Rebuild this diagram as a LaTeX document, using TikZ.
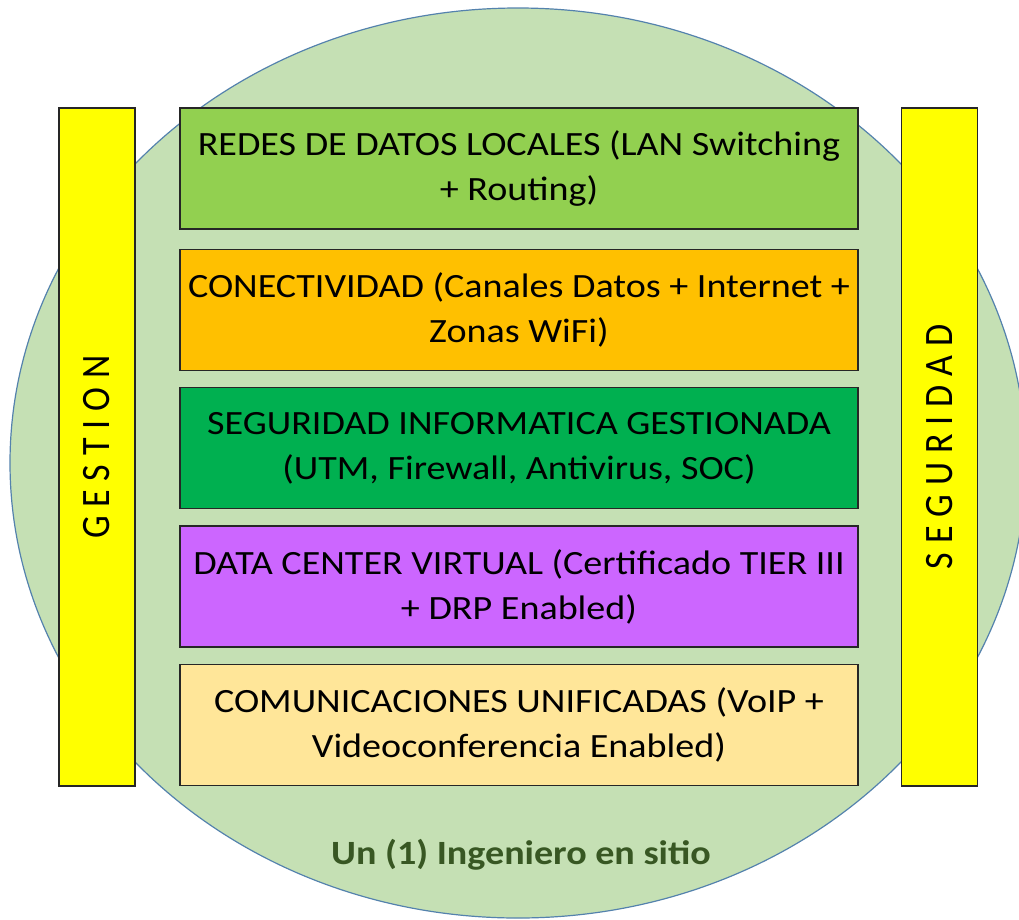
\documentclass[tikz,border=0pt]{standalone}
\usepackage{fontspec}
\setmainfont{Carlito}[FakeStretch=1.12]
\newfontfamily\spacedfont[LetterSpace=25]{Carlito}
\begin{document}
\begin{tikzpicture}[x=1pt,y=1pt,yscale=-1,
  layer/.style={draw={rgb, 255:red, 38; green, 38; blue, 38 },line width=1.5pt,minimum width=678pt,minimum height=121pt,inner sep=0pt,align=center,font=\fontsize{34}{45}\selectfont},
  pillar/.style={draw={rgb, 255:red, 38; green, 38; blue, 38 },fill={rgb, 255:red, 255; green, 255; blue, 0 },line width=1.5pt,minimum width=76pt,minimum height=678pt,inner sep=0pt},
  pillartext/.style={rotate=90,font=\spacedfont\fontsize{36}{36}\selectfont}]
\useasboundingbox (0,0) rectangle (1019,919);

%Shape: Ellipse
\draw [color={rgb, 255:red, 84; green, 130; blue, 173 },fill={rgb, 255:red, 197; green, 224; blue, 180 },line width=1.2pt] (518,463) ellipse (508 and 455);

%Shape: Rectangle
\node [pillar] (gestion) at (97,447) {};
\node [pillar] (seguridad) at (939.5,447) {};

% Text Node
\node [pillartext] at (gestion.center) {\scalebox{1}[1.12]{GESTION}};
\node [pillartext] at (seguridad.center) {\scalebox{1}[1.12]{SEGURIDAD}};

%Shape: Rectangle
\node [layer,fill={rgb, 255:red, 146; green, 208; blue, 80 }] (lan) at (519,168.5) {REDES DE DATOS LOCALES (LAN Switching\\+ Routing)};
\node [layer,fill={rgb, 255:red, 255; green, 192; blue, 0 }] (conect) at (519,310) {CONECTIVIDAD (Canales Datos + Internet +\\Zonas WiFi)};
\node [layer,fill={rgb, 255:red, 0; green, 176; blue, 80 }] (segin) at (519,448) {SEGURIDAD INFORMATICA GESTIONADA\\(UTM, Firewall, Antivirus, SOC)};
\node [layer,fill={rgb, 255:red, 204; green, 102; blue, 255 }] (dc) at (519,586.5) {DATA CENTER VIRTUAL (Certificado TIER III\\+ DRP Enabled)};
\node [layer,fill={rgb, 255:red, 255; green, 230; blue, 153 }] (comun) at (519,725) {COMUNICACIONES UNIFICADAS (VoIP +\\Videoconferencia Enabled)};

% Text Node
\node [font=\bfseries\fontsize{34}{34}\selectfont,text={rgb, 255:red, 56; green, 87; blue, 35 }] (ingeniero) at (521,855) {Un (1) Ingeniero en sitio};

\end{tikzpicture}
\end{document}
